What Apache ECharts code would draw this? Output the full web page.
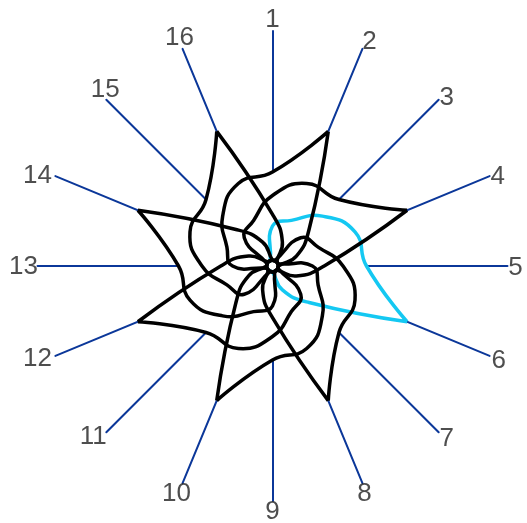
<!DOCTYPE html>
<html>
<head>
<meta charset="utf-8">
<script src="https://cdn.jsdelivr.net/npm/echarts@6/dist/echarts.min.js"></script>
<style>
html,body{margin:0;padding:0;background:#fff;}
#chart{width:527px;height:523px;}
</style>
</head>
<body>
<div id="chart"></div>
<script>
// Axis labels, clockwise from the top
var labels = ['1','2','3','4','5','6','7','8','9','10','11','12','13','14','15','16'];

// Series values (axis 1..16, clockwise), scale 0..100
var tip2  = [40, 62, 22, 11, 2.5, 2.5, 2.5, 2.5, 2.5, 2.5, 2.5, 2.5, 17, 21, 30, 38];
var tip4  = [30, 38, 40, 62, 22, 11, 2.5, 2.5, 2.5, 2.5, 2.5, 2.5, 2.5, 2.5, 17, 21];
var tip6  = [17, 21, 30, 38, 40, 62, 22, 11, 2.5, 2.5, 2.5, 2.5, 2.5, 2.5, 2.5, 2.5];
var tip8  = [2.5, 2.5, 17, 21, 30, 38, 40, 62, 22, 11, 2.5, 2.5, 2.5, 2.5, 2.5, 2.5];
var tip10 = [2.5, 2.5, 2.5, 2.5, 17, 21, 30, 38, 40, 62, 22, 11, 2.5, 2.5, 2.5, 2.5];
var tip12 = [2.5, 2.5, 2.5, 2.5, 2.5, 2.5, 17, 21, 30, 38, 40, 62, 22, 11, 2.5, 2.5];
var tip14 = [2.5, 2.5, 2.5, 2.5, 2.5, 2.5, 2.5, 2.5, 17, 21, 30, 38, 40, 62, 22, 11];
var tip16 = [22, 11, 2.5, 2.5, 2.5, 2.5, 2.5, 2.5, 2.5, 2.5, 17, 21, 30, 38, 40, 62];

var blackSeries = [tip2, tip4, tip8, tip10, tip12, tip14, tip16];
var cyanSeries = [tip6];
var allSeries = [tip2, tip4, tip6, tip8, tip10, tip12, tip14, tip16];

// Styling / layout config (not data)
var CENTER = [272.5, 266];
var RADIUS = 235;
var SMOOTH = 0.5;
var AXIS_MAX = 100;
// Label offsets (px) from each axis end, clockwise from the top
var labelOffsets = [
  [0, -11], [7, -7], [8, -2], [8, 1], [8, 2], [9, 5], [8, 7], [2, 11],
  [0, 11], [-6, 11], [-13, 5], [-18, 3], [-14, 1], [-18, 0], [-1, -10], [-3, -11]
];

// ECharts radar places indicators counter-clockwise; reorder so labels run clockwise
function toEc(arr) {
  var out = [arr[0]];
  for (var i = arr.length - 1; i >= 1; i--) out.push(arr[i]);
  return out;
}

var envelope = labels.map(function (_, i) {
  return Math.max.apply(null, allSeries.map(function (s) { return s[i]; }));
});

// Each line is a loop that starts and ends at its tip (largest value)
function makeRender(color) {
  return function (params, api) {
    var n = labels.length;
    var vals = [];
    for (var k = 0; k < n; k++) vals.push(api.value(k));
    var tip = vals.indexOf(Math.max.apply(null, vals));
    var pts = [];
    for (var j = 0; j <= n; j++) {
      var idx = (tip + j) % n;
      pts.push(api.coord([vals[idx], idx]));
    }
    return {
      type: 'polyline',
      shape: { points: pts, smooth: SMOOTH },
      style: { fill: null, stroke: color, lineWidth: 3.5, lineJoin: 'bevel', lineCap: 'butt' },
      silent: true
    };
  };
}

var dims = labels.map(function (_, i) { return 'd' + i; });

var chart = echarts.init(document.getElementById('chart'), null, { renderer: 'canvas' });
chart.setOption({
  animation: false,
  backgroundColor: '#ffffff',
  radar: {
    center: CENTER,
    radius: RADIUS,
    startAngle: 90,
    splitNumber: 1,
    indicator: toEc(labels).map(function (n) { return { name: n, max: AXIS_MAX, min: 0 }; }),
    axisName: { show: false },
    axisLine: { lineStyle: { color: '#0b3799', width: 2 } },
    splitLine: { show: false },
    splitArea: { show: false },
    axisTick: { show: false },
    axisLabel: { show: false }
  },
  polar: { center: CENTER, radius: [0, RADIUS] },
  angleAxis: {
    type: 'category', data: labels, boundaryGap: false,
    startAngle: 90, clockwise: true, show: false
  },
  radiusAxis: { type: 'value', min: 0, max: AXIS_MAX, show: false },
  series: [{
    type: 'radar',
    silent: true,
    data: [{
      value: toEc(envelope),
      symbol: 'none',
      lineStyle: { width: 0, opacity: 0 },
      areaStyle: { color: '#ffffff', opacity: 1 }
    }]
  }, {
    type: 'custom',
    coordinateSystem: 'polar',
    clip: false,
    dimensions: dims,
    data: cyanSeries,
    renderItem: makeRender('#14c8f2')
  }, {
    type: 'custom',
    coordinateSystem: 'polar',
    clip: false,
    dimensions: dims,
    data: blackSeries,
    renderItem: makeRender('#000000')
  }, {
    type: 'scatter',
    coordinateSystem: 'polar',
    clip: false,
    silent: true,
    symbolSize: 0,
    itemStyle: { color: '#222222' },
    label: {
      show: true,
      position: 'inside',
      formatter: '{b}',
      color: '#222222',
      textBorderWidth: 0,
      textBorderColor: 'transparent',
      textShadowBlur: 0,
      fontSize: 26,
      fontFamily: 'Liberation Sans, Arial, sans-serif',
      align: 'center',
      verticalAlign: 'middle'
    },
    data: labels.map(function (name, i) {
      return { name: name, value: [AXIS_MAX, i], label: { offset: labelOffsets[i] } };
    })
  }]
});
</script>
</body>
</html>
